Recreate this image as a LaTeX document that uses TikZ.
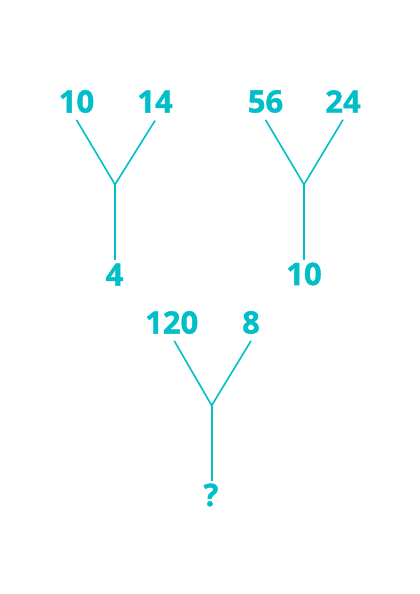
\documentclass[tikz,border=0pt]{standalone}
\usepackage{fontspec}
\setmainfont{Open Sans}[BoldFeatures={FakeBold=1.2}]
\definecolor{teal}{RGB}{0,191,200}
\begin{document}
\begin{tikzpicture}[x=1pt,y=-1pt,
  num/.style={inner sep=0pt,outer sep=0pt,text=teal,font=\fontsize{31}{31}\selectfont\bfseries},
  link/.style={draw=teal,line width=1.6pt}]
\useasboundingbox (0,0) rectangle (420,594);
% tree 1
\node[num] (a1) at (76.5,101.5) {10};
\node[num] (b1) at (155,101.5) {14};
\node[num] (c1) at (114.5,274.5) {4};
\coordinate (j1) at (115,184.5);
\draw[link] ([yshift=-7pt]a1.south) -- (j1) -- ([yshift=-8pt]b1.south);
\draw[link] (j1) -- ([yshift=3pt]j1 |- c1.north);
% tree 2
\node[num] (a2) at (265.5,101.5) {56};
\node[num] (b2) at (343,101.5) {24};
\node[num] (c2) at (304,274) {10};
\coordinate (j2) at (304,184.5);
\draw[link] ([yshift=-7pt]a2.south) -- (j2) -- ([yshift=-7pt]b2.south);
\draw[link] (j2) -- ([yshift=3pt]j2 |- c2.north);
% tree 3
\node[num] (a3) at (171.7,322.5) {120};
\node[num] (b3) at (251,322.5) {8};
\node[num] (c3) at (211,495) {?};
\coordinate (j3) at (211.7,405.5);
\draw[link] ([xshift=2.6pt,yshift=-7pt]a3.south) -- (j3) -- ([yshift=-7pt]b3.south);
\draw[link] (j3) -- ([yshift=3pt]j3 |- c3.north);
\end{tikzpicture}
\end{document}
